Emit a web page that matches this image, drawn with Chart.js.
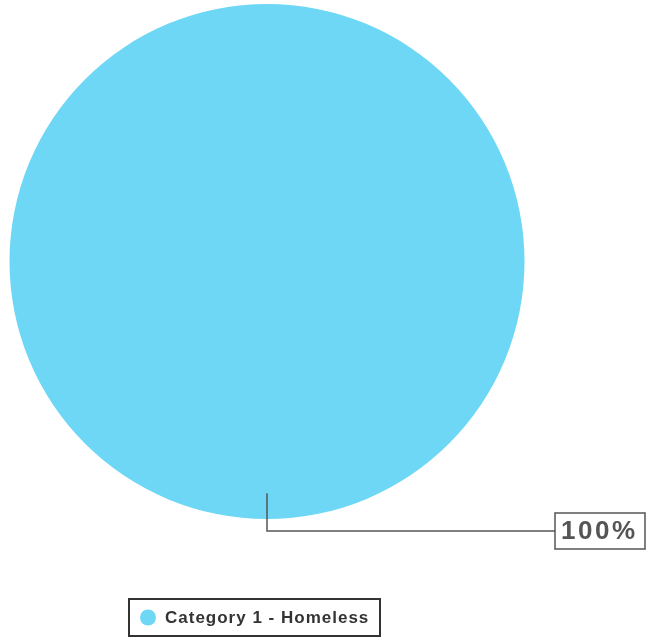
<!DOCTYPE html>
<html>
<head>
<meta charset="utf-8">
<script src="https://cdn.jsdelivr.net/npm/chart.js@4"></script>
<style>
  html, body { margin: 0; padding: 0; background: #fff; }
  #wrap { width: 647px; height: 638px; }
</style>
</head>
<body>
<div id="wrap"><canvas id="pie-chart" width="647" height="638"></canvas></div>
<script>
const categories = ["Category 1 - Homeless"];
const values = [100];
const colors = ["#6dd7f5"];

// leader line + boxed percent label, and the boxed legend underneath
const calloutPlugin = {
  id: "callout",
  afterDraw(chart) {
    const ctx = chart.ctx;
    const meta = chart.getDatasetMeta(0);
    const total = values.reduce((a, b) => a + b, 0);
    ctx.save();
    meta.data.forEach((arc, i) => {
      const p = arc.getProps(["x", "y", "startAngle", "endAngle", "outerRadius"], true);
      const mid = (p.startAngle + p.endAngle) / 2;
      const sx = p.x + Math.cos(mid) * p.outerRadius * 0.9;
      const sy = p.y + Math.sin(mid) * p.outerRadius * 0.9;
      const ey = p.y + Math.sin(mid) * p.outerRadius + 12;
      const boxL = 555, boxW = 90, boxH = 36;
      ctx.strokeStyle = "#555";
      ctx.lineWidth = 1.5;
      ctx.beginPath();
      ctx.moveTo(sx, sy);
      ctx.lineTo(sx, ey);
      ctx.lineTo(boxL, ey);
      ctx.stroke();
      ctx.strokeRect(boxL, ey - boxH / 2, boxW, boxH);
      const pct = Math.round((values[i] / total) * 100) + "%";
      ctx.fillStyle = "#555";
      ctx.font = "bold 26px 'Liberation Sans', Arial, sans-serif";
      ctx.letterSpacing = "2.5px";
      ctx.textAlign = "left";
      ctx.textBaseline = "middle";
      ctx.fillText(pct, boxL + 6, ey + 1);
    });

    // legend
    const lx = 129, ly = 599, lw = 251, lh = 37;
    ctx.letterSpacing = "0px";
    ctx.strokeStyle = "#333";
    ctx.lineWidth = 2;
    ctx.strokeRect(lx, ly, lw, lh);
    categories.forEach((c, i) => {
      ctx.fillStyle = colors[i];
      ctx.beginPath();
      ctx.arc(lx + 19, ly + lh / 2, 8, 0, Math.PI * 2);
      ctx.fill();
      ctx.fillStyle = "#333";
      ctx.font = "bold 17px 'Liberation Sans', Arial, sans-serif";
      ctx.letterSpacing = "1px";
      ctx.textAlign = "left";
      ctx.textBaseline = "middle";
      ctx.fillText(c, lx + 36, ly + lh / 2 + 1);
    });
    ctx.restore();
  },
};

new Chart(document.getElementById("pie-chart"), {
  type: "pie",
  data: {
    labels: categories,
    datasets: [
      {
        data: values,
        backgroundColor: colors,
        borderWidth: 0,
      },
    ],
  },
  options: {
    responsive: false,
    animation: false,
    layout: {
      padding: { left: 9, top: 4, right: 122, bottom: 119 },
    },
    plugins: {
      legend: { display: false },
      tooltip: { enabled: false },
    },
  },
  plugins: [calloutPlugin],
});
</script>
</body>
</html>
